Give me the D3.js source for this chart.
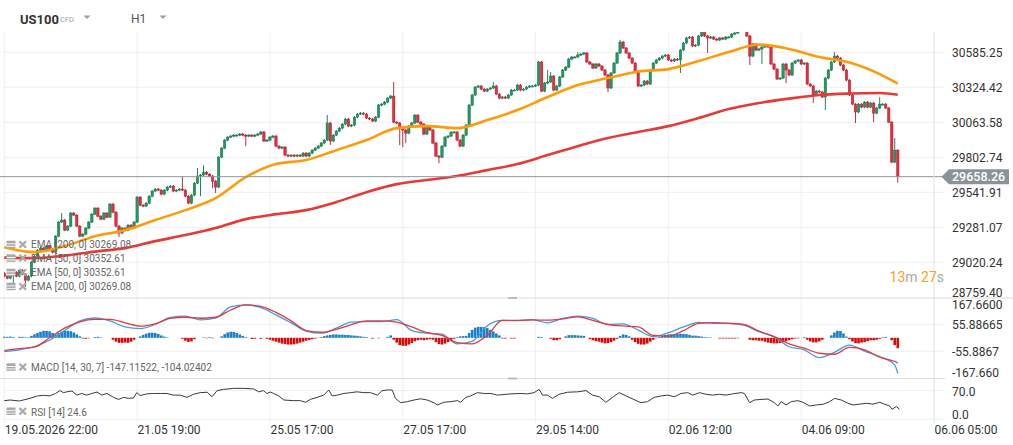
<!DOCTYPE html>
<html><head><meta charset="utf-8">
<script src="https://cdn.jsdelivr.net/npm/d3@7"></script>
<style>
html,body{margin:0;padding:0;background:#fff;overflow:hidden}
svg{display:block;font-family:Roboto,"Noto Sans",Arial,sans-serif}
</style></head><body>
<svg id="c" width="1013" height="445"></svg>
<script>
// ---------------- DATA ----------------
const firstOpen = 28940;
const closes = [
28917,28902,28932,28947,28917,28962,28932,28887,28917,29021,
29066,29111,29126,29111,29141,29111,29096,29215,29320,29335,
29260,29290,29387,29372,29290,29215,29230,29275,29320,29379,
29424,29364,29342,29387,29357,29454,29394,29290,29238,29275,
29260,29297,29275,29320,29506,29446,29439,29461,29513,29551,
29566,29558,29528,29558,29581,29588,29551,29558,29566,29558,
29513,29461,29521,29610,29663,29670,29692,29677,29663,29625,
29581,29804,29871,29931,29953,29961,29968,29968,29976,29968,
29961,29968,29961,29968,29976,29991,29924,29931,29953,29961,
29886,29871,29879,29819,29812,29819,29812,29819,29812,29834,
29812,29834,29856,29871,29886,29909,29931,30058,29924,29968,
29998,30020,30050,30088,30035,30043,30102,30125,30132,30125,
30095,30088,30073,30102,30192,30199,30214,30244,30259,30065,
30058,30020,30006,29983,30035,30058,30117,30065,30050,29976,
30028,30006,29909,29812,29804,29886,29953,29961,29991,29991,
29931,29886,29968,30043,30192,30267,30326,30334,30311,30296,
30311,30319,30334,30274,30244,30252,30244,30267,30304,30304,
30341,30304,30311,30326,30334,30334,30341,30513,30296,30356,
30364,30408,30304,30334,30401,30453,30475,30535,30550,30550,
30565,30572,30580,30513,30498,30468,30498,30483,30453,30416,
30319,30431,30505,30580,30662,30617,30580,30542,30505,30438,
30334,30341,30371,30349,30453,30505,30528,30542,30557,30565,
30528,30520,30535,30528,30602,30654,30692,30699,30632,30639,
30707,30744,30707,30692,30699,30684,30677,30692,30684,30699,
30699,30721,30729,30751,30766,30789,30707,30557,30647,30602,
30610,30625,30632,30625,30498,30460,30386,30393,30498,30453,
30416,30505,30520,30528,30498,30505,30349,30334,30267,30296,
30289,30252,30393,30453,30513,30557,30542,30490,30453,30378,
30267,30199,30140,30199,30177,30214,30177,30207,30132,30170,
30199,30199,30170,30065,29767,29856,29658.26];
const defaultWick = 8;
const longUpperWicks = {19:52,59:97,64:60,66:52,107:60,129:105,162:30,180:90,181:30,190:22,204:15,246:15,275:30,290:52,295:90};
const longLowerWicks = {3:82,7:50,38:30,65:150,69:52,70:45,80:75,108:30,131:127,132:127,133:75,144:45,200:30,224:97,233:112,247:67,251:112,259:97,268:60,272:97,282:82,288:67,296:45};

const emaIndex = [0,10,20,30,40,50,60,70,80,90,100,110,120,130,140,150,160,170,180,190,200,210,220,230,240,250,260,270,280,290,296];
const ema50 = [29133,29096,29141,29215,29260,29335,29409,29499,29655,29752,29782,29856,29931,30020,30035,30020,30080,30155,30252,30341,30393,30442,30460,30520,30587,30643,30610,30550,30509,30423,30352.61];
const ema200 = [29055,29051,29070,29100,29126,29178,29223,29275,29342,29379,29409,29469,29543,29603,29633,29663,29707,29752,29819,29886,29946,29991,30035,30095,30162,30207,30240,30267,30278,30282,30269.08];

const macdIndex = [0,5,10,15,20,25,30,35,40,45,50,55,60,65,70,75,80,85,90,95,100,105,110,115,120,125,130,135,140,145,150,155,160,165,170,175,180,185,190,195,200,205,210,215,220,225,230,235,240,245,250,255,260,265,270,275,280,285,290,295,296];
const macdLine = [-57,-50,-36,-10,30,70,82,70,45,38,55,85,90,74,81,128,136,125,95,62,28,19,40,65,67,67,75,30,19,15,-25,-15,50,72,71,75,62,80,90,80,55,58,32,5,21,45,64,60,60,53,25,5,-37,-50,-82,-60,-30,-55,-78,-113,-147.12];
const signalLine = [-53,-45,-39,0,40,66,76,76,62,48,58,80,85,81,85,115,136,130,105,70,30,23,35,55,70,70,65,45,21,10,-20,-25,10,72,72,74,73,78,87,72,55,49,45,10,7,30,60,63,60,55,28,5,-25,-43,-64,-68,-40,-50,-80,-98,-104.02];
const histogram = [
4,4,5,3,0,4,4,2,2,8, 14,20,25,29,29,27,20,14,20,26, 29,29,27,22,14,6,-3,-4,-2,0,
3,4,2,0,0,0,-8,-16,-21,-21, -20,-21,-16,-8,0,6,12,17,21,21, 20,16,10,5,2,0,0,0,0,-4,
-12,-17,-15,-6,0,0,2,-2,3,-2, 0,0,6,15,22,25,24,20,14,8, 3,0,-5,-4,0,-4,0,-4,-8,-12,
-16,-20,-24,-26,-28,-28,-27,-24,-20,-16, -12,-9,-6,-3,-1,3,7,10,12,14, 14,13,13,12,12,10,9,8,6,4,
3,0,-3,0,-2,0,0,4,10,-8, -20,-30,-33,-33,-28,-22,-14,-10,-8,-10, -8,-6,-8,-18,-26,-28,-24,-18,-10,-4,
3,6,7,8,20,33,42,45,45,44, 40,33,26,18,10,-3,-3,0,-3,-3, 0,0,0,0,0,0,0,4,3,0,
0,-4,-10,-10,-6,0,6,11,11,11, 10,9,8,0,-6,-10,-14,-16,-20,-23, -22,-18,-12,-4,8,14,12,6,-8,-18,
-25,-28,-28,-24,-16,-8,-2,4,8,12, 14,15,15,16,17,16,15,12,9,9, 7,5,3,2,2,0,0,-3,-3,-3,
-3,-3,-3,-2,0,0,0,-8,-10,-10, -12,-12,-16,-20,-22,-23,-23,-22,-18,-14, -10,-6,-3,-2,0,3,-8,-15,-19,-19,
-15,-8,0,0,10,22,29,28,18,5, -6,-15,-22,-23,-20,-18,-14,-10,-10,-8, -4,2,3,0,-10,-30,-43];

const rsiAt = [0,2,5,8.5,11,13,15,17,18.5,19.6,20.7,22.4,24,25.7,27.3,29,30.7,32.3,34,36.2,37.8,39.5,41.1,42.8,43.9,45,47.2,49.4,51.7,53.9,56,58.3,60.5,62.7,64.9,67.2,68.8,70.5,72.7,76,79.3,82.6,84.3,85.9,87,88.2,89.2,90.9,92.6,95.9,98.1,99.8,101.4,103.6,105.8,107.5,108.6,110.3,112.5,114.7,116.9,119.1,121.3,123.6,125.2,126.9,128.5,129.6,131.3,133.5,135.7,137.9,140.1,142.3,143.5,145.6,147.9,150.1,151.2,152.9,154.5,156.7,159,161.2,163.4,167.8,171.1,173.3,175.5,177.2,178.3,179.9,181.6,183.8,186.6,189.9,192.7,194.9,197.1,199.3,201.5,203.7,206,208.2,210.9,213.1,215.3,217.6,219.8,222,224.2,226.4,228.1,230.3,232.5,234.7,236.9,239.1,241.3,244.1,245.2,246.9,248.5,250.7,253,255.1,256.3,257.4,259,260.7,262.9,264.6,266.8,269,271.2,273.4,275.1,277.3,279.5,281.2,283.4,285.6,287.8,290,291.6,293.3,294.1,295.5,296.6];
const rsiValues = [45.5,47,44.6,51,57,58.5,57,63,70,65,67,69,59,63,59,63,66.5,59,63,53.5,48.5,53.5,51,52,65,58,62,63,63,63,59,59,53.5,61,65,66,55,70,73,75.5,75.5,74,67,70,63,66.5,63,57,47,45.5,45.5,41.5,48.5,53.5,59,71.5,57,59,63,65,67,65,65,59,70,71.5,71.5,51,40.5,43,47,50,47,40.5,35,41.5,43,45.5,41.5,53.5,57,65,63,63,59,62,63,62,65,73,59,59,51,61,66,67,70,59,55,41.5,53.5,65,57,49.5,40.5,43,53.5,57,59,55,63,65,59,65,61,59,61,59,62,65,63,40.5,47,48.5,49.5,40.5,32.5,43,35,43,45.5,41.5,32.5,35,36.5,43,51,47,39,35,37,39,37,41.5,37,32.5,24.5,31,24.6];

const xTickIndex = [0,44,88,132,176,220,264,308];
const xTickLabels = ["19.05.2026 22:00","21.05 19:00","25.05 17:00","27.05 17:00","29.05 14:00","02.06 12:00","04.06 09:00","06.06 05:00"];
const priceTicks = [30585.25,30324.42,30063.58,29802.74,29541.91,29281.07,29020.24,28759.40];
const macdTicks = [167.66,55.88665,-55.8867,-167.66];
const macdTickLabels = ["167.6600","55.88665","-55.8867","-167.660"];
const rsiTicks = [70,0];
const legendRows = ["EMA [200, 0] 30269.08","EMA [50, 0] 30352.61","EMA [50, 0] 30352.61","EMA [200, 0] 30269.08"];
const macdLegend = "MACD [14, 30, 7] -147.11522, -104.02402";
const rsiLegend = "RSI [14] 24.6";

// ---------------- CHART ----------------
const svg = d3.select('#c');
const x = d3.scaleLinear().domain([0,308]).range([4.3,934]);
const yP = d3.scaleLinear().domain([28759.40,30585.25]).range([297.3,52.3]);
const yM = d3.scaleLinear().domain([-167.66,167.66]).range([378.3,297.3]);
const yR = d3.scaleLinear().domain([0,100]).range([419.3,378.3]);
const GRID = '#efefef';

// grids
const g = svg.append('g');
g.selectAll('.vg').data(xTickIndex).join('line')
  .attr('x1',d=>x(d)).attr('x2',d=>x(d)).attr('y1',32).attr('y2',423)
  .attr('stroke',GRID).attr('stroke-width',1);
g.selectAll('.hg').data(priceTicks.slice(0,7)).join('line')
  .attr('x1',4).attr('x2',945).attr('y1',d=>yP(d)).attr('y2',d=>yP(d))
  .attr('stroke',GRID);
g.selectAll('.mg').data([55.88665,-55.8867]).join('line')
  .attr('x1',4).attr('x2',945).attr('y1',d=>yM(d)).attr('y2',d=>yM(d))
  .attr('stroke',GRID);
g.selectAll('.rg').data(rsiTicks).join('line')
  .attr('x1',4).attr('x2',945).attr('y1',d=>yR(d)).attr('y2',d=>yR(d))
  .attr('stroke',GRID);
// separators
g.append('line').attr('x1',0).attr('x2',1013).attr('y1',298).attr('y2',298).attr('stroke','#dadada').attr('stroke-width',1.2);
g.append('line').attr('x1',0).attr('x2',945).attr('y1',378.5).attr('y2',378.5).attr('stroke','#dadada').attr('stroke-width',1.2);
g.append('rect').attr('x',508).attr('y',297).attr('width',9).attr('height',2).attr('fill','#bdbdbd');
g.append('rect').attr('x',508).attr('y',377.5).attr('width',9).attr('height',2).attr('fill','#bdbdbd');

// clip for main panel
const defs = svg.append('defs');
defs.append('clipPath').attr('id','mainclip').append('rect').attr('x',4).attr('y',32).attr('width',930).attr('height',265.5);
const main = svg.append('g').attr('clip-path','url(#mainclip)');

// candles
const candles = closes.map((c,i)=>{
  const o = i===0 ? firstOpen : closes[i-1];
  const up = longUpperWicks[i] ?? defaultWick;
  const dn = longLowerWicks[i] ?? defaultWick;
  return {i,o,c,h:Math.max(o,c)+up,l:Math.min(o,c)-dn};
});
const GREEN='#1f9a61', GREEN_D='#14704a', RED='#e52d3f', RED_D='#b01c2c';
const cg = main.append('g');
cg.selectAll('line').data(candles).join('line')
  .attr('x1',d=>x(d.i)).attr('x2',d=>x(d.i))
  .attr('y1',d=>yP(d.h)).attr('y2',d=>yP(d.l))
  .attr('stroke',d=>d.c>=d.o?GREEN_D:RED_D).attr('stroke-width',0.9);
cg.selectAll('rect').data(candles).join('rect')
  .attr('x',d=>x(d.i)-1.2).attr('width',2.4)
  .attr('y',d=>yP(Math.max(d.o,d.c)))
  .attr('height',d=>Math.max(1,Math.abs(yP(d.o)-yP(d.c))))
  .attr('fill',d=>d.c>=d.o?GREEN:RED)
  .attr('stroke',d=>d.c>=d.o?GREEN_D:RED_D).attr('stroke-width',0.5);

// EMA lines
const emaLine = arr => d3.line().x((d,k)=>x(emaIndex[k])).y(d=>yP(d)).curve(d3.curveMonotoneX)(arr);
main.append('path').attr('d',emaLine(ema200)).attr('fill','none').attr('stroke','#e63a36').attr('stroke-width',2.6);
main.append('path').attr('d',emaLine(ema50)).attr('fill','none').attr('stroke','#ff9a0a').attr('stroke-width',2.6);

// current price line
const last = closes[closes.length-1];
svg.append('line').attr('x1',0).attr('x2',942).attr('y1',yP(last)).attr('y2',yP(last)).attr('stroke','#8d979b').attr('stroke-width',1);
const ly = yP(last);
svg.append('path').attr('d',`M941.5,${ly} L949,${ly-7.5} L1009,${ly-7.5} L1009,${ly+7.5} L949,${ly+7.5} Z`).attr('fill','#8a9497');
svg.append('text').attr('x',952).attr('y',ly+4.5).attr('fill','#fff').attr('font-size',12.5).attr('font-weight',500).text(last.toFixed(2));

// MACD
const mg = svg.append('g');
mg.selectAll('rect').data(histogram.map((v,i)=>({i,v}))).join('rect')
  .attr('x',d=>x(d.i)-1.3).attr('width',2.6)
  .attr('y',d=>Math.min(yM(d.v),yM(0)))
  .attr('height',d=>Math.abs(yM(d.v)-yM(0)))
  .attr('fill',d=>d.v>=0?'#1b7ec8':'#d80b0b');
const mLine = arr => d3.line().x((d,k)=>x(macdIndex[k])).y(d=>yM(d)).curve(d3.curveMonotoneX)(arr);
mg.append('path').attr('d',mLine(macdLine)).attr('fill','none').attr('stroke','#3d9fe0').attr('stroke-width',1.3);
mg.append('path').attr('d',mLine(signalLine)).attr('fill','none').attr('stroke','#e5383b').attr('stroke-width',1.3);

// RSI
svg.append('path').attr('d',d3.line().x((d,k)=>x(rsiAt[k])).y(d=>yR(d))(rsiValues))
  .attr('fill','none').attr('stroke','#3a3a3a').attr('stroke-width',1);

// right axes
function rightAxis(scale, ticks, fmt, top, bottom){
  const ax = svg.append('g').attr('transform','translate(952,0)')
    .call(d3.axisRight(scale).tickValues(ticks).tickSize(0).tickPadding(0).tickFormat(fmt));
  ax.select('.domain').remove();
  ax.selectAll('.tick').attr('transform',d=>`translate(0,${Math.max(top,Math.min(bottom,scale(d)+1.3))})`);
  ax.selectAll('text').attr('fill','#333').attr('font-size',12).attr('font-family','Roboto,"Noto Sans",Arial,sans-serif').attr('text-anchor','start').attr('x',0);
}
rightAxis(yP, priceTicks, d=>d.toFixed(2), 40, 292.7);
rightAxis(yM, macdTicks, (d,i)=>macdTickLabels[i], 305.3, 372.7);
rightAxis(yR, rsiTicks, d=>d.toFixed(1), 386, 415);

// x axis
const xa = svg.append('g').attr('transform','translate(0,424)')
  .call(d3.axisBottom(x).tickValues(xTickIndex).tickSize(0).tickPadding(0).tickFormat((d,i)=>xTickLabels[i]));
xa.select('.domain').remove();
xa.selectAll('text').attr('fill','#333').attr('font-size',12).attr('font-family','Roboto,"Noto Sans",Arial,sans-serif')
  .attr('text-anchor','start').attr('dy',0).attr('y',10);

// right border
svg.append('line').attr('x1',934).attr('x2',934).attr('y1',32).attr('y2',423).attr('stroke','#e8e8e8');

// legends
function icons(cy){
  const ig = svg.append('g');
  ig.append('rect').attr('x',6.5).attr('y',cy-4).attr('width',9).attr('height',7.5).attr('fill','#a8a8a8');
  ig.append('rect').attr('x',6.5).attr('y',cy-1.3).attr('width',9).attr('height',0.9).attr('fill','#fff');
  ig.append('rect').attr('x',6.5).attr('y',cy+1.2).attr('width',9).attr('height',0.9).attr('fill','#fff');
  ig.append('path').attr('d',`M19.5,${cy-3.5} L26,${cy+3} M26,${cy-3.5} L19.5,${cy+3}`).attr('stroke','#a8a8a8').attr('stroke-width',2.2);
}
const legendY = [244.7,258.3,272.7,286.7];
legendRows.forEach((t,k)=>{
  icons(legendY[k]);
  svg.append('text').attr('x',31).attr('y',legendY[k]+3.6).attr('font-size',10).attr('fill','#666').text(t);
});
icons(367.3);
svg.append('text').attr('x',31).attr('y',370.9).attr('font-size',10).attr('fill','#666').text(macdLegend);
icons(411.5);
svg.append('text').attr('x',31).attr('y',415.5).attr('font-size',10).attr('fill','#666').text(rsiLegend);

// header
svg.append('text').attr('x',20).attr('y',23.5).attr('font-size',13).attr('font-weight',700).attr('fill','#333').text('US100');
svg.append('text').attr('x',60).attr('y',22).attr('font-size',7.5).attr('fill','#9e9e9e').text('CFD');
svg.append('path').attr('d','M83.5,15.5 L90.5,15.5 L87,19 Z').attr('fill','#9e9e9e');
svg.append('text').attr('x',131).attr('y',23).attr('font-size',12).attr('fill','#555').text('H1');
svg.append('path').attr('d','M159.5,15.5 L166.5,15.5 L163,19 Z').attr('fill','#9e9e9e');

// timer
const tm = svg.append('text').attr('x',944).attr('y',282).attr('font-size',14).attr('text-anchor','end');
tm.append('tspan').attr('fill','#f5a21e').text('13');
tm.append('tspan').attr('fill','#aaa').text('m ');
tm.append('tspan').attr('fill','#f5a21e').text('27');
tm.append('tspan').attr('fill','#aaa').text('s');
</script>
</body></html>
